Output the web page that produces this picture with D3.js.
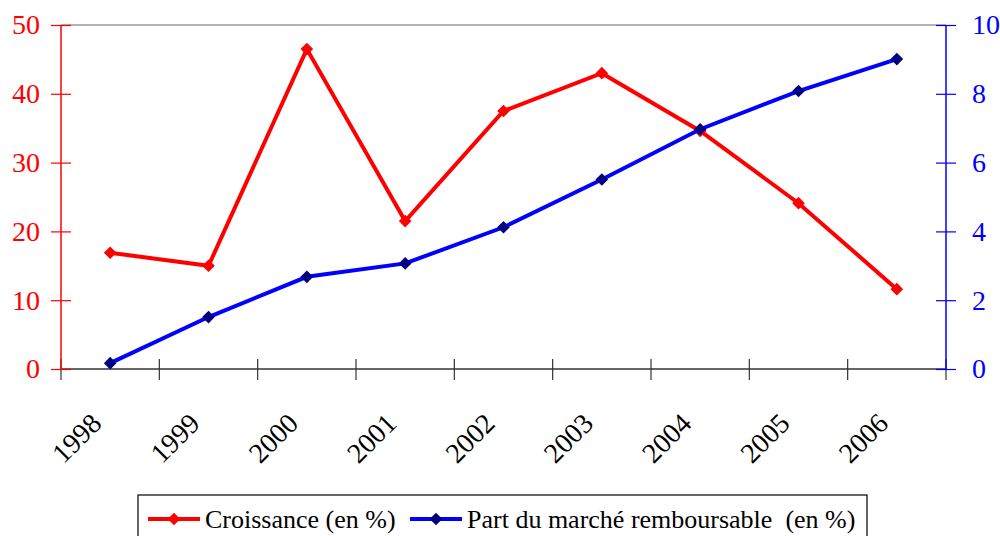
<!DOCTYPE html>
<html>
<head>
<meta charset="utf-8">
<script src="https://cdn.jsdelivr.net/npm/d3@7"></script>
<style>
body { margin: 0; background: #fff; }
svg text { font-family: "Liberation Serif", "Times New Roman", serif; }
</style>
</head>
<body>
<svg id="chart" width="1000" height="536" font-family="Liberation Serif"></svg>
<script>
const years = ["1998","1999","2000","2001","2002","2003","2004","2005","2006"];
const croissance = [16.9, 15.0, 46.5, 21.5, 37.5, 43.0, 34.6, 24.1, 11.6];
const partMarche = [0.17, 1.51, 2.68, 3.07, 4.12, 5.51, 6.97, 8.08, 9.01];
const leftTicks = [0, 10, 20, 30, 40, 50];
const rightTicks = [0, 2, 4, 6, 8, 10];
const seriesNames = ["Croissance (en %)", "Part du marché remboursable  (en %)"];

const FONT = "Liberation Serif";
const svg = d3.select("#chart");
const L = 61, R = 946, T = 25, B = 369;

const x = d3.scaleBand().domain(years).range([L, R]);
const yL = d3.scaleLinear().domain([0, 50]).range([B, T]);
const yR = d3.scaleLinear().domain([0, 10]).range([B, T]);

function serif(sel) { sel.attr("font-family", FONT); }

// top border
svg.append("line").attr("x1", L).attr("x2", R).attr("y1", T).attr("y2", T)
  .attr("stroke", "#999").attr("stroke-width", 1.5);

// bottom axis
const xAxis = svg.append("g");
xAxis.append("line").attr("x1", L).attr("x2", R).attr("y1", B).attr("y2", B)
  .attr("stroke", "#333").attr("stroke-width", 1.5);
const bounds = years.map(y => x(y)).concat([R]);
xAxis.selectAll("line.tk").data(bounds).enter().append("line")
  .attr("class", "tk")
  .attr("x1", d => d).attr("x2", d => d)
  .attr("y1", B - 10).attr("y2", B + 11)
  .attr("stroke", "#333").attr("stroke-width", 1.2);
xAxis.selectAll("text").data(years).enter().append("text")
  .attr("transform", d => `translate(${x(d) + x.bandwidth()/2 - 7},${B + 56}) rotate(-45)`)
  .attr("text-anchor", "end")
  .attr("font-size", 28)
  .attr("fill", "#000")
  .text(d => d)
  .call(serif);

// left axis
const gl = svg.append("g").attr("transform", `translate(${L},0)`)
  .call(d3.axisLeft(yL).tickValues(leftTicks).tickSize(10).tickPadding(11));
gl.attr("font-size", 28).call(serif);
gl.select(".domain").remove();
gl.append("line").attr("x1", 0).attr("x2", 0).attr("y1", T).attr("y2", B).attr("stroke", "red").attr("stroke-width", 1.5);
gl.selectAll(".tick line").attr("stroke", "red").attr("x1", 10).attr("x2", -10).attr("stroke-width", 1.2);
gl.selectAll(".tick text").attr("fill", "red").attr("font-size", 28).call(serif);

// right axis
const gr = svg.append("g").attr("transform", `translate(${R},0)`)
  .call(d3.axisRight(yR).tickValues(rightTicks).tickSize(10).tickPadding(16));
gr.attr("font-size", 28).call(serif);
gr.select(".domain").remove();
gr.append("line").attr("x1", 0).attr("x2", 0).attr("y1", T).attr("y2", B).attr("stroke", "blue").attr("stroke-width", 1.5);
gr.selectAll(".tick line").attr("stroke", "blue").attr("x1", -10).attr("x2", 10).attr("stroke-width", 1.2);
gr.selectAll(".tick text").attr("fill", "blue").attr("font-size", 28).call(serif);

const cx = d => x(d) + x.bandwidth()/2;

// Croissance
const lineL = d3.line().x((d, i) => cx(years[i])).y(d => yL(d));
svg.append("path").datum(croissance).attr("d", lineL)
  .attr("fill", "none").attr("stroke", "red").attr("stroke-width", 4);
svg.selectAll("path.mr").data(croissance).enter().append("path")
  .attr("class", "mr")
  .attr("d", d3.symbol().type(d3.symbolSquare).size(80))
  .attr("transform", (d, i) => `translate(${cx(years[i])},${yL(d)}) rotate(45)`)
  .attr("fill", "red");

// Part du marché
const lineR = d3.line().x((d, i) => cx(years[i])).y(d => yR(d));
svg.append("path").datum(partMarche).attr("d", lineR)
  .attr("fill", "none").attr("stroke", "blue").attr("stroke-width", 4);
svg.selectAll("path.mb").data(partMarche).enter().append("path")
  .attr("class", "mb")
  .attr("d", d3.symbol().type(d3.symbolSquare).size(80))
  .attr("transform", (d, i) => `translate(${cx(years[i])},${yR(d)}) rotate(45)`)
  .attr("fill", "#000080");

// legend
const lg = svg.append("g");
lg.append("rect").attr("x", 138).attr("y", 495).attr("width", 729).attr("height", 60)
  .attr("fill", "#fff").attr("stroke", "#000").attr("stroke-width", 1.2);
const items = [
  {name: seriesNames[0], line: "red", mark: "red", x0: 148, tx: 205},
  {name: seriesNames[1], line: "blue", mark: "#000080", x0: 410, tx: 467}
];
items.forEach(it => {
  lg.append("line").attr("x1", it.x0).attr("x2", it.x0 + 52).attr("y1", 519).attr("y2", 519)
    .attr("stroke", it.line).attr("stroke-width", 4);
  lg.append("path").attr("d", d3.symbol().type(d3.symbolSquare).size(80)())
    .attr("transform", `translate(${it.x0 + 26},519) rotate(45)`).attr("fill", it.mark);
  lg.append("text").attr("x", it.tx).attr("y", 528)
    .attr("font-size", 26)
    .attr("xml:space", "preserve").style("white-space", "pre")
    .attr("fill", "#000").text(it.name)
    .call(serif);
});
</script>
</body>
</html>
